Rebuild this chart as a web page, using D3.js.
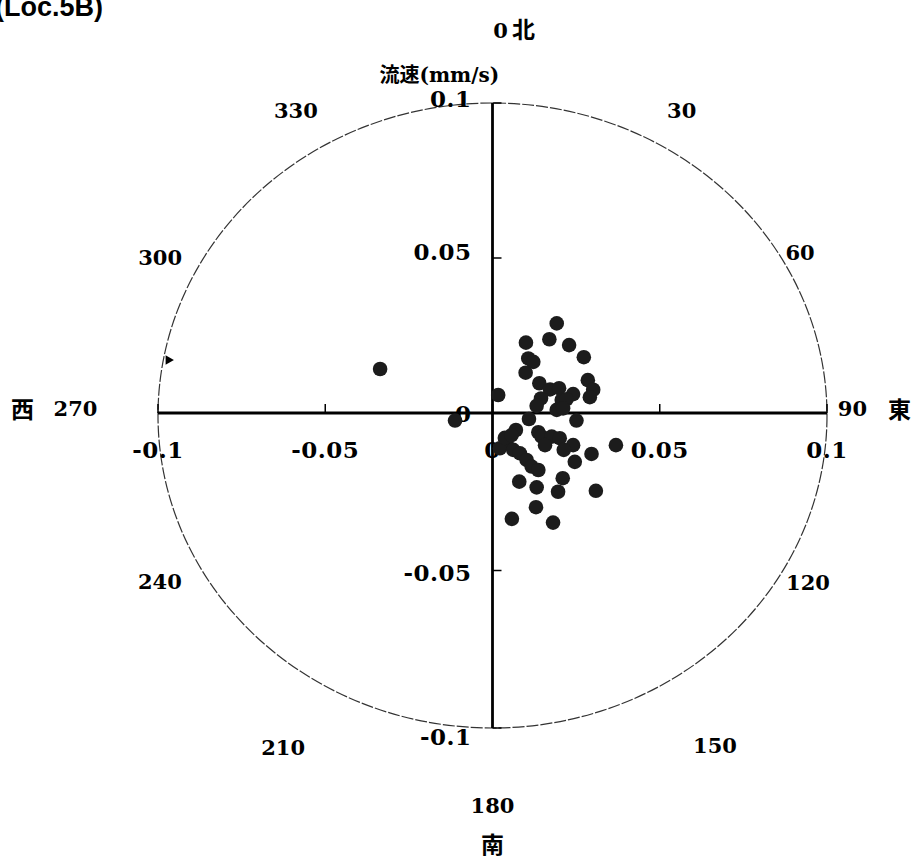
<!DOCTYPE html>
<html>
<head>
<meta charset="utf-8">
<script src="https://cdn.jsdelivr.net/npm/d3@7"></script>
<style>
  html, body { margin: 0; padding: 0; background: #fff; }
  svg { display: block; }
</style>
</head>
<body>
<div id="chart"></div>
<script>
// ---------------- DATA ----------------
const chartTitle = "(Loc.5B)";
const axisTitle = "流速(mm/s)";
// east (x) and north (y) velocity components, mm/s
const eastValues = [
  -0.0336, 0.0192, 0.0170, 0.0100, 0.0229, 0.0273, 0.0107, 0.0122, 0.0099, 0.0140,
  0.0285, 0.0172, 0.0199, 0.0241, 0.0301, 0.0291, 0.0017, 0.0145, 0.0132, 0.0207,
  0.0221, 0.0192, 0.0211, -0.0112, 0.0251, 0.0109, 0.0070, 0.0137, 0.0147, 0.0177,
  0.0201, 0.0241, 0.0157, 0.0213, 0.0369, 0.0296, 0.0246, 0.0042, 0.0022, 0.0062,
  0.0082, 0.0102, 0.0117, 0.0137, 0.0080, 0.0132, 0.0210, 0.0196, 0.0309, 0.0130,
  0.0058, 0.0181, 0.0037, 0.0057
];
const northValues = [
  0.0142, 0.0289, 0.0238, 0.0227, 0.0219, 0.0180, 0.0176, 0.0165, 0.0130, 0.0096,
  0.0106, 0.0076, 0.0080, 0.0061, 0.0075, 0.0051, 0.0058, 0.0047, 0.0023, 0.0042,
  0.0044, 0.0010, 0.0015, -0.0024, -0.0024, -0.0019, -0.0054, -0.0061, -0.0075, -0.0075,
  -0.0080, -0.0102, -0.0102, -0.0117, -0.0102, -0.0130, -0.0155, -0.0096, -0.0112, -0.0117,
  -0.0128, -0.0149, -0.0170, -0.0181, -0.0218, -0.0236, -0.0207, -0.0250, -0.0247, -0.0299,
  -0.0336, -0.0348, -0.0079, -0.0070
];
// small triangular marker on the rim
const markerEast = [-0.0969];
const markerNorth = [0.0171];

const tickValues = [-0.1, -0.05, 0, 0.05, 0.1];
const xTickLabels = ["-0.1", "-0.05", "0", "0.05", "0.1"];
const yTickLabels = ["-0.1", "-0.05", "0", "0.05", "0.1"];
const angleLabels = ["0", "30", "60", "90", "120", "150", "180", "210", "240", "270", "300", "330"];
const directionLabels = ["北", "東", "南", "西"];

// ---------------- LAYOUT ----------------
const W = 918, H = 864;
// bearing (deg) and distance (px) from centre for each angle label
const angleLabelPos = [[1.2, 383], [32, 357], [62.4, 347], [89.3, 360], [118.2, 358], [146.2, 400],
                       [180, 392], [212, 395], [243.1, 373], [270.6, 417], [295.1, 367], [327, 361]];
const directionPos = [[4.6, 386], [89.3, 407], [180, 430], [270.6, 470]];
const yLabelShift = [8, 2, 0, -7, -5];

const svg = d3.select("#chart").append("svg")
  .attr("width", W).attr("height", H)
  .attr("viewBox", `0 0 ${W} ${H}`);

const x = d3.scaleLinear().domain([-0.1, 0, 0.1]).range([158, 492.5, 827]);
const y = d3.scaleLinear().domain([-0.1, 0, 0.1]).range([728, 413, 103]);

const cx = x(0), cy = y(0);
const ecx = (x(-0.1) + x(0.1)) / 2, ecy = (y(-0.1) + y(0.1)) / 2;
const rx = (x(0.1) - x(-0.1)) / 2, ry = (y(-0.1) - y(0.1)) / 2;

const serif = "'DejaVu Serif', 'Noto Sans CJK JP', serif";
const cjk = "'Noto Sans CJK JP', 'Noto Sans CJK SC', sans-serif";

// outer circle
svg.append("ellipse")
  .attr("cx", ecx).attr("cy", ecy).attr("rx", rx).attr("ry", ry)
  .attr("fill", "none").attr("stroke", "#333").attr("stroke-width", 1.2)
  .attr("stroke-dasharray", "12,2");

// axes lines
svg.append("line")
  .attr("x1", x(-0.1)).attr("x2", x(0.1)).attr("y1", cy).attr("y2", cy)
  .attr("stroke", "#000").attr("stroke-width", 2.8);
svg.append("line")
  .attr("x1", cx).attr("x2", cx).attr("y1", y(0.1)).attr("y2", y(-0.1))
  .attr("stroke", "#000").attr("stroke-width", 2.8);

// ticks
svg.append("g").selectAll("line").data(tickValues).join("line")
  .attr("x1", d => x(d)).attr("x2", d => x(d))
  .attr("y1", cy).attr("y2", cy - 9)
  .attr("stroke", "#000").attr("stroke-width", 1.5);
svg.append("g").selectAll("line").data(tickValues).join("line")
  .attr("x1", cx).attr("x2", cx + 9)
  .attr("y1", d => y(d)).attr("y2", d => y(d))
  .attr("stroke", "#000").attr("stroke-width", 1.5);

// tick labels
svg.append("g").selectAll("text").data(tickValues).join("text")
  .attr("x", d => x(d)).attr("y", cy + 36)
  .attr("text-anchor", "middle").attr("dominant-baseline", "central")
  .attr("font-family", serif).attr("font-weight", "bold").attr("font-size", 23)
  .attr("letter-spacing", 0.5)
  .text((d, i) => xTickLabels[i]);
svg.append("g").selectAll("text").data(tickValues).join("text")
  .attr("x", cx - 21).attr("y", (d, i) => y(d) + yLabelShift[i])
  .attr("text-anchor", "end").attr("dominant-baseline", "central")
  .attr("font-family", serif).attr("font-weight", "bold").attr("font-size", 23)
  .attr("letter-spacing", 0.5)
  .text((d, i) => yTickLabels[i]);

// axis title
svg.append("text")
  .attr("x", cx - 113).attr("y", y(0.1) - 28)
  .attr("dominant-baseline", "central")
  .attr("font-family", serif).attr("font-weight", "bold").attr("font-size", 20)
  .text(axisTitle);

// chart title (cut at top edge, as in the scan)
svg.append("text")
  .attr("x", -5).attr("y", 16)
  .attr("font-family", "'Liberation Sans', Arial, sans-serif").attr("font-weight", "bold")
  .attr("font-size", 27)
  .text(chartTitle);

// angle labels
const polar = (deg, r) => [cx + r * Math.sin(deg * Math.PI / 180), cy - r * Math.cos(deg * Math.PI / 180)];
svg.append("g").selectAll("text").data(angleLabels).join("text")
  .attr("x", (d, i) => polar(...angleLabelPos[i])[0])
  .attr("y", (d, i) => polar(...angleLabelPos[i])[1])
  .attr("text-anchor", "middle").attr("dominant-baseline", "central")
  .attr("font-family", serif).attr("font-weight", "bold").attr("font-size", 21)
  .text(d => d);
svg.append("g").selectAll("text").data(directionLabels).join("text")
  .attr("x", (d, i) => polar(...directionPos[i])[0])
  .attr("y", (d, i) => polar(...directionPos[i])[1])
  .attr("text-anchor", "middle").attr("dominant-baseline", "central")
  .attr("font-family", cjk).attr("font-weight", "bold").attr("font-size", 23)
  .text(d => d);

// data points
svg.append("g").selectAll("circle").data(eastValues).join("circle")
  .attr("cx", d => x(d)).attr("cy", (d, i) => y(northValues[i]))
  .attr("r", 7.3)
  .attr("fill", "#1c1c1c");

// rim marker
svg.append("g").selectAll("path").data(markerEast).join("path")
  .attr("transform", (d, i) => `translate(${x(d)},${y(markerNorth[i])}) rotate(90)`)
  .attr("d", d3.symbol(d3.symbolTriangle, 40)())
  .attr("fill", "#000");
</script>
</body>
</html>
